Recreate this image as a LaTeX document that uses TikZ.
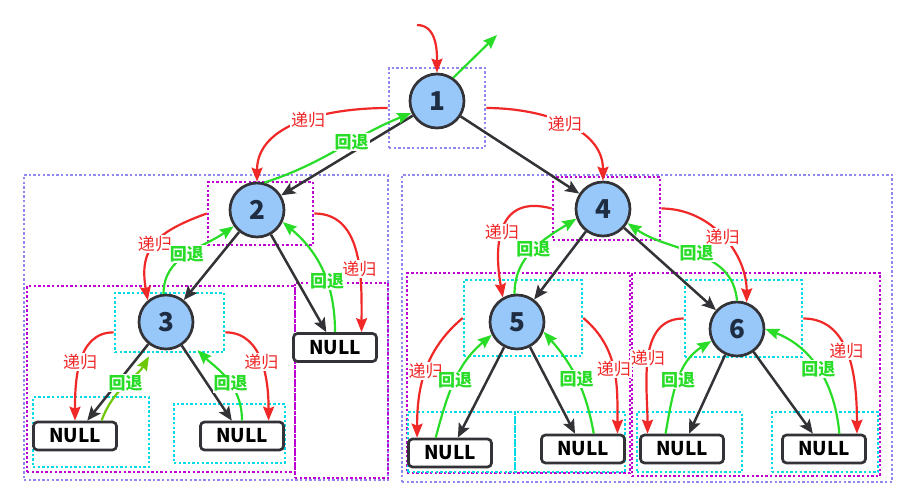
\documentclass[tikz,border=0pt]{standalone}
\usepackage{fontspec}
\setmainfont{Noto Sans CJK SC}
\usetikzlibrary{arrows.meta}
\definecolor{celeste}{RGB}{152,200,250}
\definecolor{grigio}{RGB}{50,50,55}
\definecolor{numero}{RGB}{30,45,65}
\definecolor{rosso}{RGB}{240,40,40}
\definecolor{verde}{RGB}{40,220,40}
\definecolor{verdino}{RGB}{110,200,10}
\definecolor{lilla}{RGB}{145,135,240}
\definecolor{viola}{RGB}{190,0,210}
\definecolor{ciano}{RGB}{0,220,230}
\begin{document}
\begin{tikzpicture}[x=1pt,y=1pt,
  nodo/.style={circle,draw=grigio,line width=2.7pt,fill=celeste,minimum size=54pt,inner sep=0pt,text=numero,font=\fontsize{26}{26}\selectfont\bfseries},
  vuoto/.style={draw=grigio,line width=2.7pt,rounded corners=4pt,fill=white,minimum width=83pt,minimum height=28pt,inner sep=0pt,font=\fontsize{19}{19}\selectfont\bfseries},
  cornice/.style={draw=#1,line width=2.6pt,dash pattern=on 2.4pt off 2.2pt,inner sep=0pt},
  ramo/.style={grigio,line width=2.5pt,-{Stealth[length=14pt,width=12pt,inset=3pt]}},
  ricorsione/.style={rosso,line width=2.2pt,-{Stealth[length=14pt,width=11pt,inset=2pt]}},
  ritorno/.style={verde,line width=2.2pt,-{Stealth[length=14pt,width=11pt,inset=2pt]}},
  ric/.style={fill=white,text=rosso,inner sep=1pt,font=\fontsize{17}{17}\selectfont},
  rit/.style={fill=white,text=verde,inner sep=1pt,font=\fontsize{17}{17}\selectfont\bfseries}]
\useasboundingbox (0,0) rectangle (911,-492);
\node[cornice=lilla,minimum width=96pt,minimum height=80pt] (q1) at (437,-108) {};
\node[cornice=lilla,minimum width=364pt,minimum height=305pt] (sx) at (206,-327.5) {};
\node[cornice=lilla,minimum width=490pt,minimum height=307pt] (dx) at (647,-328.5) {};
\node[cornice=viola,minimum width=105pt,minimum height=63pt] (q2) at (260.5,-213.5) {};
\node[cornice=viola,minimum width=268pt,minimum height=186pt] (s2) at (161,-379) {};
\node[cornice=viola,minimum width=93pt,minimum height=195pt] (d2) at (341.5,-380.5) {};
\node[cornice=viola,minimum width=107pt,minimum height=63pt] (q4) at (606.5,-208.5) {};
\node[cornice=viola,minimum width=223pt,minimum height=200pt] (s4) at (518.5,-373) {};
\node[cornice=viola,minimum width=248pt,minimum height=203pt] (d4) at (756,-374.5) {};
\node[cornice=ciano,minimum width=109pt,minimum height=59pt] (c3) at (169.5,-322.5) {};
\node[cornice=ciano,minimum width=116pt,minimum height=70pt] (c3s) at (91,-432) {};
\node[cornice=ciano,minimum width=111pt,minimum height=59pt] (c3d) at (229.5,-433.5) {};
\node[cornice=ciano,minimum width=118pt,minimum height=76pt] (c5) at (523,-318) {};
\node[cornice=ciano,minimum width=117pt,minimum height=77pt] (c6) at (743.5,-318.5) {};
\node[cornice=ciano,minimum width=107pt,minimum height=60pt] (c5s) at (461.5,-442) {};
\node[cornice=ciano,minimum width=110pt,minimum height=60pt] (c5d) at (570,-442) {};
\node[cornice=ciano,minimum width=105pt,minimum height=60pt] (c6s) at (689.5,-442) {};
\node[cornice=ciano,minimum width=106pt,minimum height=60pt] (c6d) at (825,-442) {};
\node[nodo] (n1) at (437,-101) {1};
\node[nodo] (n2) at (257,-210) {2};
\node[nodo] (n3) at (166,-322) {3};
\node[nodo] (n4) at (603,-209) {4};
\node[nodo] (n5) at (517,-322) {5};
\node[nodo] (n6) at (737,-329) {6};
\node[vuoto] (v2) at (335,-347.5) {NULL};
\node[vuoto] (v3s) at (75,-436) {NULL};
\node[vuoto] (v3d) at (242,-436) {NULL};
\node[vuoto] (v5s) at (450,-453) {NULL};
\node[vuoto] (v5d) at (583,-449) {NULL};
\node[vuoto] (v6s) at (682,-449) {NULL};
\node[vuoto] (v6d) at (824,-449) {NULL};
\coordinate (ingresso) at (417,-25);
\coordinate (uscita) at (497,-35);
\draw[ramo] (n1) -- (n2);
\draw[ramo] (n1) -- (n4);
\draw[ramo] (n2) -- (n3);
\draw[ramo] (n2) -- (v2);
\draw[ramo] (n3) -- (v3s);
\draw[ramo] (n3) -- (v3d);
\draw[ramo] (n4) -- (n5);
\draw[ramo] (n4) -- (n6);
\draw[ramo] (n5) -- (v5s);
\draw[ramo] (n5) -- (v5d);
\draw[ramo] (n6) -- (v6s);
\draw[ramo] (n6) -- (v6d);
\draw[ricorsione] (ingresso) to[out=0,in=90] (n1.north);
\draw[ritorno] (n1.55) -- (uscita);
\draw[ricorsione] (q1.west) to[out=180,in=90] node[ric,pos=.45]{递归} (n2.north);
\draw[ritorno] (n2.75) to[out=18,in=202] node[rit,pos=.6]{回退} (n1.205);
\draw[ricorsione] (q1.east) to[out=0,in=90] node[ric,pos=.5]{递归} (n4.north);
\draw[ricorsione] (q2.west) to[out=200,in=100,looseness=1.3] node[ric,pos=.5]{递归} (n3.130);
\draw[ritorno] (n3.95) to[out=90,in=215] node[rit,pos=.5]{回退} (n2.215);
\draw[ricorsione] (q2.east) to[out=0,in=90] node[ric,pos=.6]{递归} (v2.30);
\draw[ritorno] (v2.north) to[out=90,in=-40] node[rit,pos=.4]{回退} (n2.335);
\draw[ricorsione] (c3.190) to[out=180,in=90] node[ric,pos=.5]{递归} (v3s.north);
\draw[ritorno,verdino,shorten >=10pt] (v3s.30) to[out=70,in=240] node[rit,text=verde,pos=.5]{回退} (n3.245);
\draw[ricorsione] (c3.350) to[out=0,in=90] node[ric,pos=.5]{递归} (v3d.30);
\draw[ritorno,shorten >=14pt] (v3d.north) to[out=90,in=-45] node[rit,pos=.4]{回退} (n3.320);
\draw[ricorsione] (q4.west) to[out=165,in=100,looseness=1.4] node[ric,pos=.55]{递归} (n5.120);
\draw[ritorno] (n5.95) to[out=90,in=212] node[rit,pos=.5]{回退} (n4.200);
\draw[ricorsione] (q4.east) to[out=0,in=90] node[ric,pos=.5]{递归} (n6.70);
\draw[ritorno] (n6.north) to[out=95,in=-35] node[rit,pos=.5]{回退} (n4.330);
\draw[ricorsione] (c5.west) to[out=220,in=90] node[ric,pos=.5]{递归} (v5s.155);
\draw[ritorno] (v5s.133) to[out=75,in=220] node[rit,pos=.5]{回退} (n5.207);
\draw[ricorsione] (c5.east) to[out=-40,in=90] node[ric,pos=.5]{递归} (v5d.24);
\draw[ritorno] (v5d.55) to[out=100,in=-49] node[rit,pos=.5]{回退} (n5.340);
\draw[ricorsione] (c6.west) to[out=180,in=90] node[ric,pos=.5]{递归} (v6s.156);
\draw[ritorno] (v6s.137) to[out=80,in=212] node[rit,pos=.5]{回退} (n6.205);
\draw[ricorsione] (c6.east) to[out=0,in=90] node[ric,pos=.45]{递归} (v6d.25);
\draw[ritorno] (v6d.45) to[out=95,in=-21] node[rit,pos=.5]{回退} (n6.0);
\end{tikzpicture}
\end{document}
